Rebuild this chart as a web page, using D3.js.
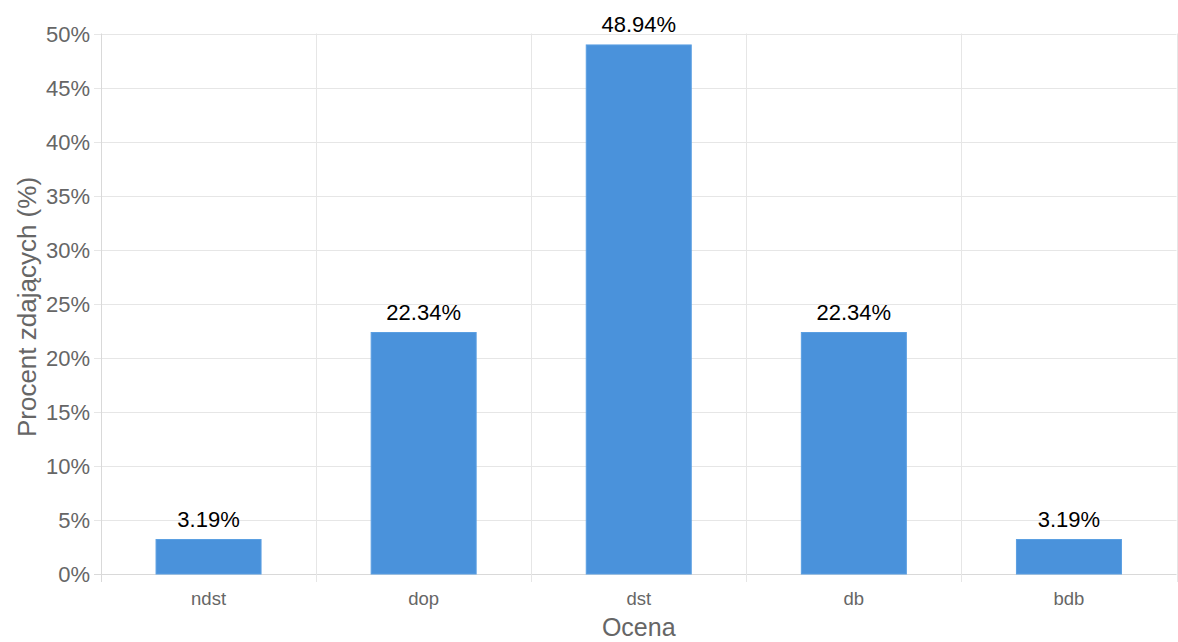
<!DOCTYPE html>
<html><head><meta charset="utf-8">
<script src="https://cdn.jsdelivr.net/npm/d3@7"></script>
<style>body{margin:0;background:#fff}svg{display:block;font-family:"Liberation Sans",Arial,sans-serif}</style>
</head><body><svg id="c" width="1178" height="642"></svg>
<script>
const categories = ["ndst","dop","dst","db","bdb"];
const values = [3.19, 22.34, 48.94, 22.34, 3.19];
const yTicks = [0,5,10,15,20,25,30,35,40,45,50];

const svg = d3.select("#c");
const m = {l:101, r:1176.5, t:33.5, b:574};
const x = d3.scaleBand().domain(categories).range([m.l, m.r]);
const y = d3.scaleLinear().domain([0,50]).range([m.b, m.t]);

const g = svg.append("g");
g.selectAll(".hg").data(yTicks).join("line")
  .attr("x1", m.l-7).attr("x2", m.r).attr("y1", d=>Math.round(y(d))+0.5).attr("y2", d=>Math.round(y(d))+0.5)
  .attr("stroke", d=>d===0?"#d9d9d9":"#e6e6e6").attr("stroke-width",1);
const bounds = categories.map(c=>x(c)).concat([m.r]);
g.selectAll(".vg").data(bounds).join("line")
  .attr("x1", d=>Math.round(d)+0.5).attr("x2", d=>Math.round(d)+0.5).attr("y1", m.t).attr("y2", m.b+8)
  .attr("stroke", (d,i)=>i===0?"#d9d9d9":"#e6e6e6");

g.selectAll(".yt").data(yTicks).join("text")
  .attr("x", 90).attr("y", d=>y(d)+8).attr("text-anchor","end")
  .attr("font-size",22).attr("fill","#666").text(d=>d+"%");

const bw = 105;
g.selectAll(".bar").data(values).join("rect")
  .attr("x",(d,i)=>x(categories[i])+x.bandwidth()/2-bw/2).attr("width",bw)
  .attr("y",d=>y(d)).attr("height",d=>m.b-y(d))
  .attr("fill","#4a92db").attr("stroke","#5b9fe2").attr("stroke-width",1);

g.selectAll(".vl").data(values).join("text")
  .attr("x",(d,i)=>x(categories[i])+x.bandwidth()/2).attr("y",d=>y(d)-13)
  .attr("text-anchor","middle").attr("font-size",22).attr("fill","#000")
  .text(d=>d.toFixed(2)+"%");

g.selectAll(".xt").data(categories).join("text")
  .attr("x",d=>x(d)+x.bandwidth()/2).attr("y",605).attr("text-anchor","middle")
  .attr("font-size",18.5).attr("fill","#666").text(d=>d);

svg.append("text").attr("x",(m.l+m.r)/2).attr("y",636).attr("text-anchor","middle")
  .attr("font-size",25).attr("fill","#666").text("Ocena");
svg.append("text").attr("transform","translate(36,307) rotate(-90)").attr("text-anchor","middle")
  .attr("font-size",26).attr("fill","#666").text("Procent zdających (%)");
</script></body></html>
